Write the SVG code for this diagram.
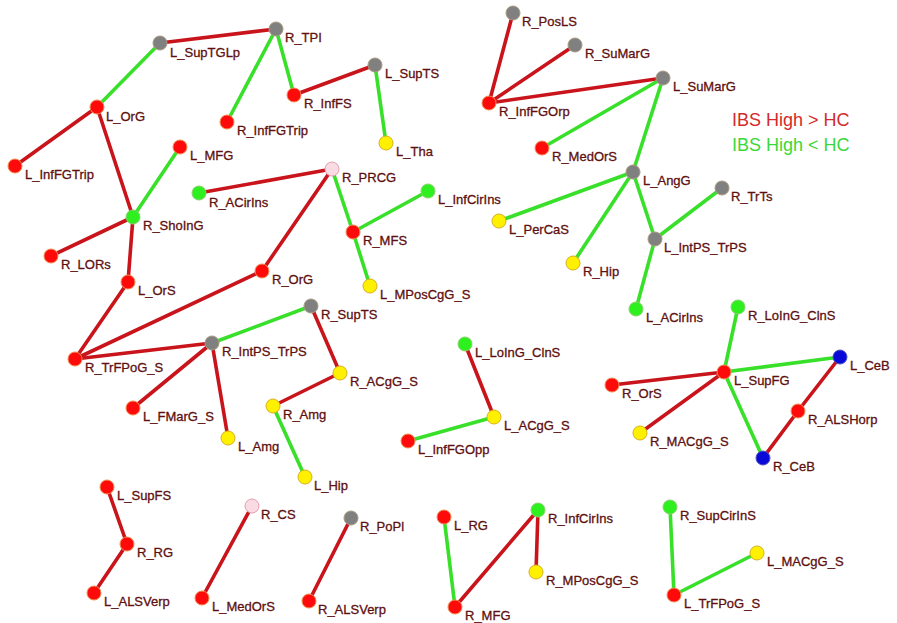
<svg xmlns="http://www.w3.org/2000/svg" width="897" height="623" viewBox="0 0 897 623">
<style>
.e{stroke-width:3.6;stroke-linecap:round;fill:none}
.r{stroke:#c8141a}
.g{stroke:#38e02a}
circle{stroke-width:1}
.nr{fill:#ff0a0a;stroke:#f08a50}
.ng{fill:#2ef01e;stroke:#8ad070}
.ny{fill:#fff000;stroke:#d8b020}
.nx{fill:#808080;stroke:#a89a80}
.nb{fill:#0a0ad8;stroke:#5050c0}
.np{fill:#fadbe4;stroke:#e0a0b0}
text{font-family:"Liberation Sans",Arial,sans-serif;font-size:13px;fill:#5e1010;stroke:#5e1010;stroke-width:0.3}
.lg{font-size:18px;stroke:none}
</style>
<rect width="897" height="623" fill="#ffffff"/>
<g id="connectors">
<line class="e r" x1="160" y1="43" x2="276" y2="29"/>
<line class="e g" x1="160" y1="43" x2="97" y2="107"/>
<line class="e g" x1="276" y1="29" x2="227" y2="122"/>
<line class="e g" x1="276" y1="29" x2="294" y2="95"/>
<line class="e r" x1="294" y1="95" x2="375" y2="65"/>
<line class="e g" x1="375" y1="65" x2="386" y2="143"/>
<line class="e r" x1="97" y1="107" x2="15" y2="166"/>
<line class="e r" x1="97" y1="107" x2="133" y2="217"/>
<line class="e g" x1="180" y1="147" x2="133" y2="217"/>
<line class="e r" x1="133" y1="217" x2="51" y2="256"/>
<line class="e r" x1="133" y1="217" x2="128" y2="282"/>
<line class="e r" x1="128" y1="282" x2="75" y2="359"/>
<line class="e r" x1="75" y1="359" x2="262" y2="271"/>
<line class="e r" x1="262" y1="271" x2="332" y2="169"/>
<line class="e r" x1="199" y1="193" x2="332" y2="169"/>
<line class="e g" x1="332" y1="169" x2="353" y2="232"/>
<line class="e g" x1="353" y1="232" x2="428" y2="191"/>
<line class="e g" x1="353" y1="232" x2="370" y2="286"/>
<line class="e r" x1="75" y1="359" x2="212" y2="343"/>
<line class="e g" x1="212" y1="343" x2="311" y2="306"/>
<line class="e r" x1="212" y1="343" x2="133" y2="408"/>
<line class="e r" x1="212" y1="343" x2="228" y2="438"/>
<line class="e r" x1="311" y1="306" x2="340" y2="373"/>
<line class="e r" x1="340" y1="373" x2="273" y2="406"/>
<line class="e g" x1="273" y1="406" x2="305" y2="477"/>
<line class="e r" x1="489" y1="103" x2="513" y2="13"/>
<line class="e r" x1="489" y1="103" x2="575" y2="45"/>
<line class="e r" x1="489" y1="103" x2="663" y2="78"/>
<line class="e g" x1="663" y1="78" x2="542" y2="148"/>
<line class="e g" x1="663" y1="78" x2="633" y2="172"/>
<line class="e g" x1="633" y1="172" x2="499" y2="221"/>
<line class="e g" x1="633" y1="172" x2="573" y2="263"/>
<line class="e g" x1="633" y1="172" x2="655" y2="239"/>
<line class="e g" x1="655" y1="239" x2="722" y2="188"/>
<line class="e g" x1="655" y1="239" x2="636" y2="309"/>
<line class="e r" x1="465" y1="344" x2="494" y2="417"/>
<line class="e g" x1="494" y1="417" x2="408" y2="441"/>
<line class="e g" x1="724" y1="372" x2="738" y2="307"/>
<line class="e g" x1="724" y1="372" x2="840" y2="357"/>
<line class="e r" x1="724" y1="372" x2="612" y2="385"/>
<line class="e r" x1="724" y1="372" x2="640" y2="433"/>
<line class="e g" x1="724" y1="372" x2="763" y2="458"/>
<line class="e r" x1="840" y1="357" x2="798" y2="411"/>
<line class="e r" x1="798" y1="411" x2="763" y2="458"/>
<line class="e r" x1="107" y1="487" x2="127" y2="544"/>
<line class="e r" x1="127" y1="544" x2="94" y2="593"/>
<line class="e r" x1="252" y1="506" x2="202" y2="598"/>
<line class="e r" x1="351" y1="518" x2="309" y2="601"/>
<line class="e g" x1="444" y1="517" x2="455" y2="607"/>
<line class="e r" x1="455" y1="607" x2="538" y2="510"/>
<line class="e r" x1="538" y1="510" x2="536" y2="572"/>
<line class="e g" x1="670" y1="507" x2="674" y2="595"/>
<line class="e g" x1="674" y1="595" x2="757" y2="553"/>
</g>
<g id="L_SupTGLp"><circle class="nx" cx="160" cy="43" r="7"/><text x="170" y="57">L_SupTGLp</text></g>
<g id="R_TPI"><circle class="nx" cx="276" cy="29" r="7"/><text x="285" y="42">R_TPI</text></g>
<g id="L_OrG"><circle class="nr" cx="97" cy="107" r="7"/><text x="106" y="121">L_OrG</text></g>
<g id="L_InfFGTrip"><circle class="nr" cx="15" cy="166" r="7"/><text x="25" y="179">L_InfFGTrip</text></g>
<g id="L_MFG"><circle class="nr" cx="180" cy="147" r="7"/><text x="190" y="160">L_MFG</text></g>
<g id="R_ACirIns"><circle class="ng" cx="199" cy="193" r="7"/><text x="209" y="207">R_ACirIns</text></g>
<g id="R_InfFGTrip"><circle class="nr" cx="227" cy="122" r="7"/><text x="237" y="135">R_InfFGTrip</text></g>
<g id="R_InfFS"><circle class="nr" cx="294" cy="95" r="7"/><text x="304" y="108">R_InfFS</text></g>
<g id="L_SupTS"><circle class="nx" cx="375" cy="65" r="7"/><text x="385" y="78">L_SupTS</text></g>
<g id="L_Tha"><circle class="ny" cx="386" cy="143" r="7"/><text x="396" y="156">L_Tha</text></g>
<g id="R_PRCG"><circle class="np" cx="332" cy="169" r="7"/><text x="342" y="182">R_PRCG</text></g>
<g id="L_InfCirIns"><circle class="ng" cx="428" cy="191" r="7"/><text x="438" y="204">L_InfCirIns</text></g>
<g id="R_PosLS"><circle class="nx" cx="513" cy="13" r="7"/><text x="522" y="26">R_PosLS</text></g>
<g id="R_SuMarG"><circle class="nx" cx="575" cy="45" r="7"/><text x="585" y="58">R_SuMarG</text></g>
<g id="R_InfFGOrp"><circle class="nr" cx="489" cy="103" r="7"/><text x="499" y="116">R_InfFGOrp</text></g>
<g id="L_SuMarG"><circle class="nx" cx="663" cy="78" r="7"/><text x="673" y="91">L_SuMarG</text></g>
<g id="R_MedOrS"><circle class="nr" cx="542" cy="148" r="7"/><text x="552" y="161">R_MedOrS</text></g>
<g id="L_AngG"><circle class="nx" cx="633" cy="172" r="7"/><text x="643" y="185">L_AngG</text></g>
<g id="R_TrTs"><circle class="nx" cx="722" cy="188" r="7"/><text x="731" y="201">R_TrTs</text></g>
<g id="L_PerCaS"><circle class="ny" cx="499" cy="221" r="7"/><text x="509" y="234">L_PerCaS</text></g>
<g id="L_IntPS_TrPS"><circle class="nx" cx="655" cy="239" r="7"/><text x="664" y="252">L_IntPS_TrPS</text></g>
<g id="R_Hip"><circle class="ny" cx="573" cy="263" r="7"/><text x="583" y="276">R_Hip</text></g>
<g id="L_ACirIns"><circle class="ng" cx="636" cy="309" r="7"/><text x="646" y="322">L_ACirIns</text></g>
<g id="R_ShoInG"><circle class="ng" cx="133" cy="217" r="7"/><text x="143" y="230">R_ShoInG</text></g>
<g id="R_LORs"><circle class="nr" cx="51" cy="256" r="7"/><text x="61" y="269">R_LORs</text></g>
<g id="L_OrS"><circle class="nr" cx="128" cy="282" r="7"/><text x="138" y="295">L_OrS</text></g>
<g id="R_OrG"><circle class="nr" cx="262" cy="271" r="7"/><text x="272" y="284">R_OrG</text></g>
<g id="R_MFS"><circle class="nr" cx="353" cy="232" r="7"/><text x="363" y="245">R_MFS</text></g>
<g id="L_MPosCgG_S"><circle class="ny" cx="370" cy="286" r="7"/><text x="380" y="299">L_MPosCgG_S</text></g>
<g id="R_SupTS"><circle class="nx" cx="311" cy="306" r="7"/><text x="321" y="319">R_SupTS</text></g>
<g id="R_TrFPoG_S"><circle class="nr" cx="75" cy="359" r="7"/><text x="85" y="372">R_TrFPoG_S</text></g>
<g id="R_IntPS_TrPS"><circle class="nx" cx="212" cy="343" r="7"/><text x="222" y="356">R_IntPS_TrPS</text></g>
<g id="R_ACgG_S"><circle class="ny" cx="340" cy="373" r="7"/><text x="350" y="386">R_ACgG_S</text></g>
<g id="R_Amg"><circle class="ny" cx="273" cy="406" r="7"/><text x="283" y="419">R_Amg</text></g>
<g id="L_FMarG_S"><circle class="nr" cx="133" cy="408" r="7"/><text x="143" y="421">L_FMarG_S</text></g>
<g id="L_Amg"><circle class="ny" cx="228" cy="438" r="7"/><text x="238" y="451">L_Amg</text></g>
<g id="L_Hip"><circle class="ny" cx="305" cy="477" r="7"/><text x="314" y="490">L_Hip</text></g>
<g id="L_LoInG_ClnS"><circle class="ng" cx="465" cy="344" r="7"/><text x="475" y="357">L_LoInG_ClnS</text></g>
<g id="L_ACgG_S"><circle class="ny" cx="494" cy="417" r="7"/><text x="504" y="430">L_ACgG_S</text></g>
<g id="L_InfFGOpp"><circle class="nr" cx="408" cy="441" r="7"/><text x="418" y="454">L_InfFGOpp</text></g>
<g id="R_LoInG_ClnS"><circle class="ng" cx="738" cy="307" r="7"/><text x="748" y="320">R_LoInG_ClnS</text></g>
<g id="L_SupFG"><circle class="nr" cx="724" cy="372" r="7"/><text x="734" y="385">L_SupFG</text></g>
<g id="R_OrS"><circle class="nr" cx="612" cy="385" r="7"/><text x="622" y="398">R_OrS</text></g>
<g id="L_CeB"><circle class="nb" cx="840" cy="357" r="7"/><text x="850" y="370">L_CeB</text></g>
<g id="R_ALSHorp"><circle class="nr" cx="798" cy="411" r="7"/><text x="808" y="424">R_ALSHorp</text></g>
<g id="R_MACgG_S"><circle class="ny" cx="640" cy="433" r="7"/><text x="650" y="446">R_MACgG_S</text></g>
<g id="R_CeB"><circle class="nb" cx="763" cy="458" r="7"/><text x="773" y="471">R_CeB</text></g>
<g id="L_SupFS"><circle class="nr" cx="107" cy="487" r="7"/><text x="117" y="500">L_SupFS</text></g>
<g id="R_RG"><circle class="nr" cx="127" cy="544" r="7"/><text x="137" y="557">R_RG</text></g>
<g id="L_ALSVerp"><circle class="nr" cx="94" cy="593" r="7"/><text x="104" y="606">L_ALSVerp</text></g>
<g id="R_CS"><circle class="np" cx="252" cy="506" r="7"/><text x="261" y="519">R_CS</text></g>
<g id="L_MedOrS"><circle class="nr" cx="202" cy="598" r="7"/><text x="212" y="611">L_MedOrS</text></g>
<g id="R_PoPl"><circle class="nx" cx="351" cy="518" r="7"/><text x="360" y="531">R_PoPl</text></g>
<g id="R_ALSVerp"><circle class="nr" cx="309" cy="601" r="7"/><text x="318" y="614">R_ALSVerp</text></g>
<g id="L_RG"><circle class="nr" cx="444" cy="517" r="7"/><text x="454" y="530">L_RG</text></g>
<g id="R_MFG"><circle class="nr" cx="455" cy="607" r="7"/><text x="465" y="620">R_MFG</text></g>
<g id="R_InfCirIns"><circle class="ng" cx="538" cy="510" r="7"/><text x="548" y="523">R_InfCirIns</text></g>
<g id="R_MPosCgG_S"><circle class="ny" cx="536" cy="572" r="7"/><text x="546" y="585">R_MPosCgG_S</text></g>
<g id="R_SupCirInS"><circle class="ng" cx="670" cy="507" r="7"/><text x="680" y="520">R_SupCirInS</text></g>
<g id="L_MACgG_S"><circle class="ny" cx="757" cy="553" r="7"/><text x="767" y="566">L_MACgG_S</text></g>
<g id="L_TrFPoG_S"><circle class="nr" cx="674" cy="595" r="7"/><text x="684" y="608">L_TrFPoG_S</text></g>
<g id="legend">
<text class="lg" x="732" y="126" style="fill:#d42a2a">IBS High &gt; HC</text>
<text class="lg" x="732" y="151" style="fill:#3ad83a">IBS High &lt; HC</text>
</g>
</svg>
